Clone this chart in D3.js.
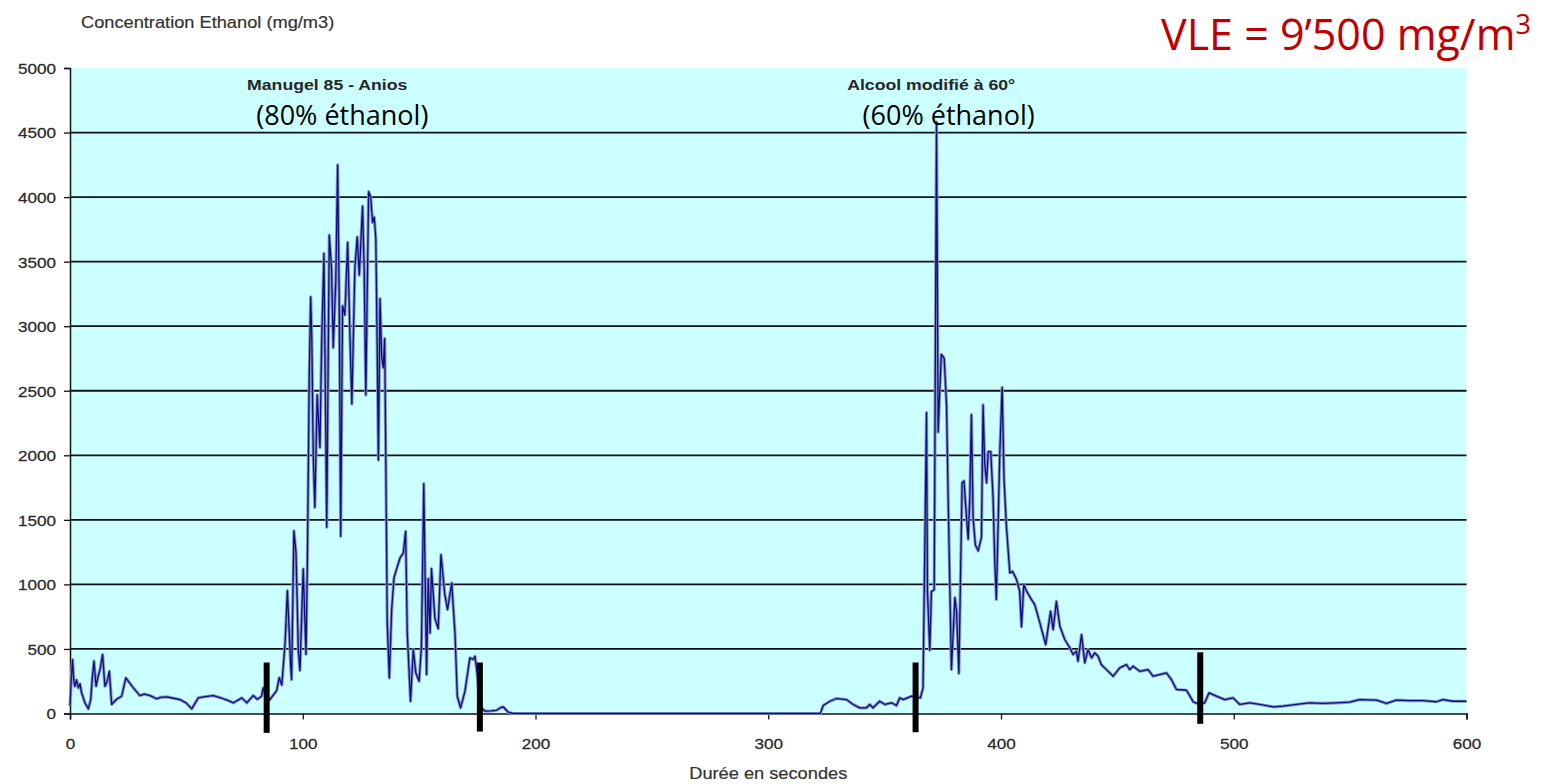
<!DOCTYPE html>
<html>
<head>
<meta charset="utf-8">
<script src="https://cdn.jsdelivr.net/npm/d3@7"></script>
<style>
  html, body { margin: 0; padding: 0; background: #ffffff; }
  svg { display: block; }
</style>
</head>
<body>
<svg id="chart" width="1541" height="784"></svg>
<script>
// ---- data ----
const timeSec = [
  0, 0.5, 1.1, 1.6, 2.1, 2.8, 3.6, 4.3, 5, 6.4, 7.9, 8.9, 9.7, 10.3, 11.2, 12, 13, 14, 15, 16, 16.9, 17.9,
  20, 22.2, 24, 25.5, 27.2, 30, 32, 34.4, 37.2, 39, 41.5, 44, 47.3, 50, 52.3, 55.1, 58, 61.6, 65, 68, 70.2,
  73.8, 76, 78.7, 80.5, 82.3, 83, 84.5, 85.9, 88.8, 89.9, 91, 92.4, 93.4, 94.8, 95.2, 96.2, 97.1, 98.1, 98.8,
  100.2, 101.4, 102, 102.8, 103.4, 103.9, 104.5, 105.2, 106.2, 107.4, 108.1, 109.1, 110.3, 111.4, 112.4,
  113.1, 114.2, 115, 115.7, 116.3, 117.1, 118.1, 119.3, 120.3, 121.1, 122.4, 123.4, 124.3, 125.7, 126.4,
  127.1, 128.3, 129.2, 130, 130.7, 131.4, 132, 132.5, 133.2, 133.9, 134.6, 135.2, 135.7, 136.3, 137.2,
  138.2, 139.2, 140, 141.8, 143.2, 144.2, 144.9, 146.3, 147.5, 148.6, 150, 151, 152, 153.2, 153.9, 154.7,
  155.3, 156.8, 158.2, 159.4, 161, 162.2, 164, 165.4, 166.4, 167.8, 169.7, 171.8, 173.2, 174, 175, 176.1,
  178.3, 181, 183.3, 185, 186.1, 188.3, 190.4, 322.4, 323.6, 326.5, 329.3, 333.6, 336.5, 339.3, 342.2,
  343.6, 345, 347.9, 350.1, 353, 355.1, 356.5, 358, 361.6, 365.4, 366.5, 368, 368.4, 369.4, 370.1, 371.3,
  372.3, 373, 373.7, 374.4, 375.6, 376.6, 377.3, 378.7, 380.2, 380.9, 381.9, 383.3, 384.1, 385.2, 385.9,
  386.6, 387.3, 388, 389, 390.2, 391.6, 392.3, 393, 393.8, 394.5, 395.6, 396.6, 397.3, 398, 399.5, 400.5,
  401.3, 402.3, 403.8, 405, 406.7, 408, 408.8, 409.8, 410.9, 413.1, 414.5, 416.7, 419.2, 421.3, 422.4,
  423.8, 425.3, 427.4, 429.6, 431, 432.4, 433.1, 434.6, 436, 437.4, 438.9, 440.3, 441.7, 443.1, 445.3,
  448.2, 451, 453.9, 455.3, 456.8, 459.6, 463.2, 465.3, 468.2, 471.1, 473.2, 475.4, 479.7, 482.6, 485.4,
  487.5, 489.4, 492.6, 496.1, 499.7, 502.6, 506.9, 511.2, 516.9, 521.2, 526.9, 532.6, 538.4, 544.1, 549.8,
  554.1, 561.3, 565.6, 569.9, 575.6, 581.3, 587.1, 589.9, 594.2, 600
];
const concentration = [
  60, 250, 418, 260, 211, 260, 199, 230, 160, 83, 36, 108, 300, 405, 211, 280, 350, 456, 211, 250, 327, 70,
  110, 134, 276, 240, 199, 139, 150, 139, 114, 125, 129, 120, 108, 80, 36, 121, 130, 139, 120, 100, 83,
  121, 83, 139, 110, 134, 199, 120, 108, 178, 277, 220, 544, 951, 375, 263, 1415, 1246, 488, 333,
  1120, 459, 1190, 2623, 3227, 2904, 2005, 1597, 2468, 2061, 2848, 3564, 1443, 3705, 3438,
  2834, 3354, 4250, 3129, 1373, 3157, 3087, 3649, 2904, 2398, 3452, 3691, 3396, 3930, 3438,
  2468, 4042, 4000, 3803, 3845, 3677, 2820, 1963, 3213, 2764, 2679, 2904, 1949, 700, 276,
  805, 1050, 1101, 1205, 1243, 1411, 624, 95, 495, 313, 250, 520, 1780, 302, 1044, 624,
  1122, 735, 657, 1231, 927, 805, 1011, 624, 134, 44, 173, 431, 418, 443, 300, 57,
  18, 20, 25, 45, 52, 10, 0, 0, 62, 95, 116, 108, 70, 44, 44,
  70, 44, 95, 70, 83, 62, 121, 108, 134, 121, 200, 2330, 944, 491, 944, 959,
  4580, 2180, 2510, 2782, 2750, 2390, 1667, 341, 898, 793, 311, 1787, 1802, 1516, 1350,
  1667, 2315, 1516, 1305, 1260, 1365, 2390, 1938, 1787, 2028, 2028, 1667, 1185, 883, 2028, 2526,
  1817, 1456, 1089, 1100, 1037, 950, 672, 1000, 951, 882, 843, 702, 534, 792, 650,
  869, 676, 573, 508, 457, 483, 405, 611, 392, 495, 431, 470, 444, 379, 340,
  289, 353, 379, 340, 366, 327, 340, 289, 302, 314, 263, 186, 180, 90, 70,
  83, 160, 134, 108, 121, 70, 83, 70, 52, 57, 70, 83, 78, 83, 88,
  108, 104, 78, 104, 99, 99, 91, 108, 95, 95
];
const yTickValues = [0, 500, 1000, 1500, 2000, 2500, 3000, 3500, 4000, 4500, 5000];
const xTickValues = [0, 100, 200, 300, 400, 500, 600];
const markerTimes = [84.5, 176.1, 363.3, 485.6];
const markerTop = [395, 395, 395, 474];
const markerBottom = [-150, -140, -145, -80];

const yAxisTitle = "Concentration Ethanol (mg/m3)";
const xAxisTitle = "Durée en secondes";
const productLabels = ["Manugel 85 - Anios", "Alcool modifié à 60°"];
const productNotes = ["(80% éthanol)", "(60% éthanol)"];
const productLabelX = [110.5, 370];
const productNoteX = [117, 377.5];
const vleText = "VLE = 9’500 mg/m";
const vleSup = "3";

// ---- chart ----
const svg = d3.select("#chart");
const x = d3.scaleLinear().domain([0, 600]).range([70, 1466.5]);
const y = d3.scaleLinear().domain([0, 5000]).range([713.5, 68]);

const sx = 1.14; // horizontal stretch of the original chart's lettering
const arial = "'Liberation Sans', Arial, sans-serif";
const calibri = "'Open Sans', 'Noto Sans', sans-serif";

// plot background
svg.append("rect")
  .attr("x", x(0)).attr("y", y(5000))
  .attr("width", x(600) - x(0)).attr("height", y(0) - y(5000))
  .attr("fill", "#ccffff");

// horizontal grid lines
svg.append("g").selectAll("line")
  .data(yTickValues.filter(v => v > 0 && v < 5000))
  .join("line")
  .attr("x1", x(0)).attr("x2", x(600))
  .attr("y1", d => y(d)).attr("y2", d => y(d))
  .attr("stroke", "#111").attr("stroke-width", 1.8);

// y axis
const yAxis = svg.append("g")
  .attr("transform", `translate(${x(0)},0)`)
  .call(d3.axisLeft(y).tickValues(yTickValues).tickSize(6).tickPadding(0).tickFormat(d3.format("d")));
yAxis.select(".domain").attr("stroke", "#111").attr("stroke-width", 1.5);
yAxis.selectAll(".tick line").attr("stroke", "#111").attr("stroke-width", 1.3);
yAxis.selectAll(".tick text").remove();
yAxis.selectAll(".tick").append("g")
  .attr("transform", `translate(-14,0) scale(${sx},1)`)
  .append("text")
  .attr("text-anchor", "end").attr("dy", "0.36em")
  .attr("font-family", arial).attr("font-size", 15).attr("fill", "#2a2a2a")
  .attr("stroke", "#2a2a2a").attr("stroke-width", 0.25)
  .text(d => d);

// x axis
const xAxis = svg.append("g")
  .attr("transform", `translate(0,${y(0)})`)
  .call(d3.axisBottom(x).tickValues(xTickValues).tickSize(6).tickFormat(d3.format("d")));
xAxis.select(".domain").attr("stroke", "#111").attr("stroke-width", 1.5);
xAxis.selectAll(".tick line").attr("stroke", "#111").attr("stroke-width", 1.3);
xAxis.selectAll(".tick text").remove();
xAxis.selectAll(".tick").append("g")
  .attr("transform", `translate(0,35) scale(${sx},1)`)
  .append("text")
  .attr("text-anchor", "middle")
  .attr("font-family", arial).attr("font-size", 15).attr("fill", "#2a2a2a")
  .attr("stroke", "#2a2a2a").attr("stroke-width", 0.25)
  .text(d => d);

// data line
const pts = timeSec.map((t, i) => ({ t, v: concentration[i] }));
const line = d3.line().x(d => x(d.t)).y(d => y(d.v));
svg.append("path").datum(pts)
  .attr("d", line)
  .attr("fill", "none")
  .attr("stroke", "#8898c2").attr("stroke-width", 3.2)
  .attr("stroke-linejoin", "round");
svg.append("path").datum(pts)
  .attr("d", line)
  .attr("fill", "none")
  .attr("stroke", "#0c0c86").attr("stroke-width", 1.3)
  .attr("stroke-linejoin", "round");

// black phase markers
svg.append("g").selectAll("rect")
  .data(markerTimes.map((t, i) => ({ t, top: markerTop[i], bottom: markerBottom[i] })))
  .join("rect")
  .attr("x", d => x(d.t) - 3).attr("width", 6)
  .attr("y", d => y(d.top)).attr("height", d => y(d.bottom) - y(d.top))
  .attr("fill", "#000");

// axis titles
svg.append("g").attr("transform", `translate(81,28) scale(${sx},1)`)
  .append("text")
  .attr("font-family", arial).attr("font-size", 16).attr("fill", "#333")
  .attr("stroke", "#333").attr("stroke-width", 0.2)
  .text(yAxisTitle);
svg.append("g").attr("transform", `translate(${x(300)},779) scale(${sx},1)`)
  .append("text")
  .attr("text-anchor", "middle")
  .attr("font-family", arial).attr("font-size", 16).attr("fill", "#333")
  .attr("stroke", "#333").attr("stroke-width", 0.2)
  .text(xAxisTitle);

// product labels
productLabels.forEach((lab, i) => {
  svg.append("g").attr("transform", `translate(${x(productLabelX[i])},90) scale(${sx},1)`)
    .append("text")
    .attr("text-anchor", "middle")
    .attr("font-family", arial).attr("font-size", 15.5).attr("font-weight", "bold").attr("fill", "#262626")
    .text(lab);
  svg.append("text")
    .attr("x", x(productNoteX[i])).attr("y", 125)
    .attr("text-anchor", "middle")
    .attr("font-family", calibri).attr("font-size", 27).attr("fill", "#000")
    .text(productNotes[i]);
});

// VLE note
const vle = svg.append("text")
  .attr("x", 1161).attr("y", 50)
  .attr("font-family", calibri).attr("font-size", 43).attr("fill", "#c00000");
vle.append("tspan").text(vleText);
vle.append("tspan").attr("dy", -16).attr("font-size", 27).text(vleSup);
</script>
</body>
</html>
